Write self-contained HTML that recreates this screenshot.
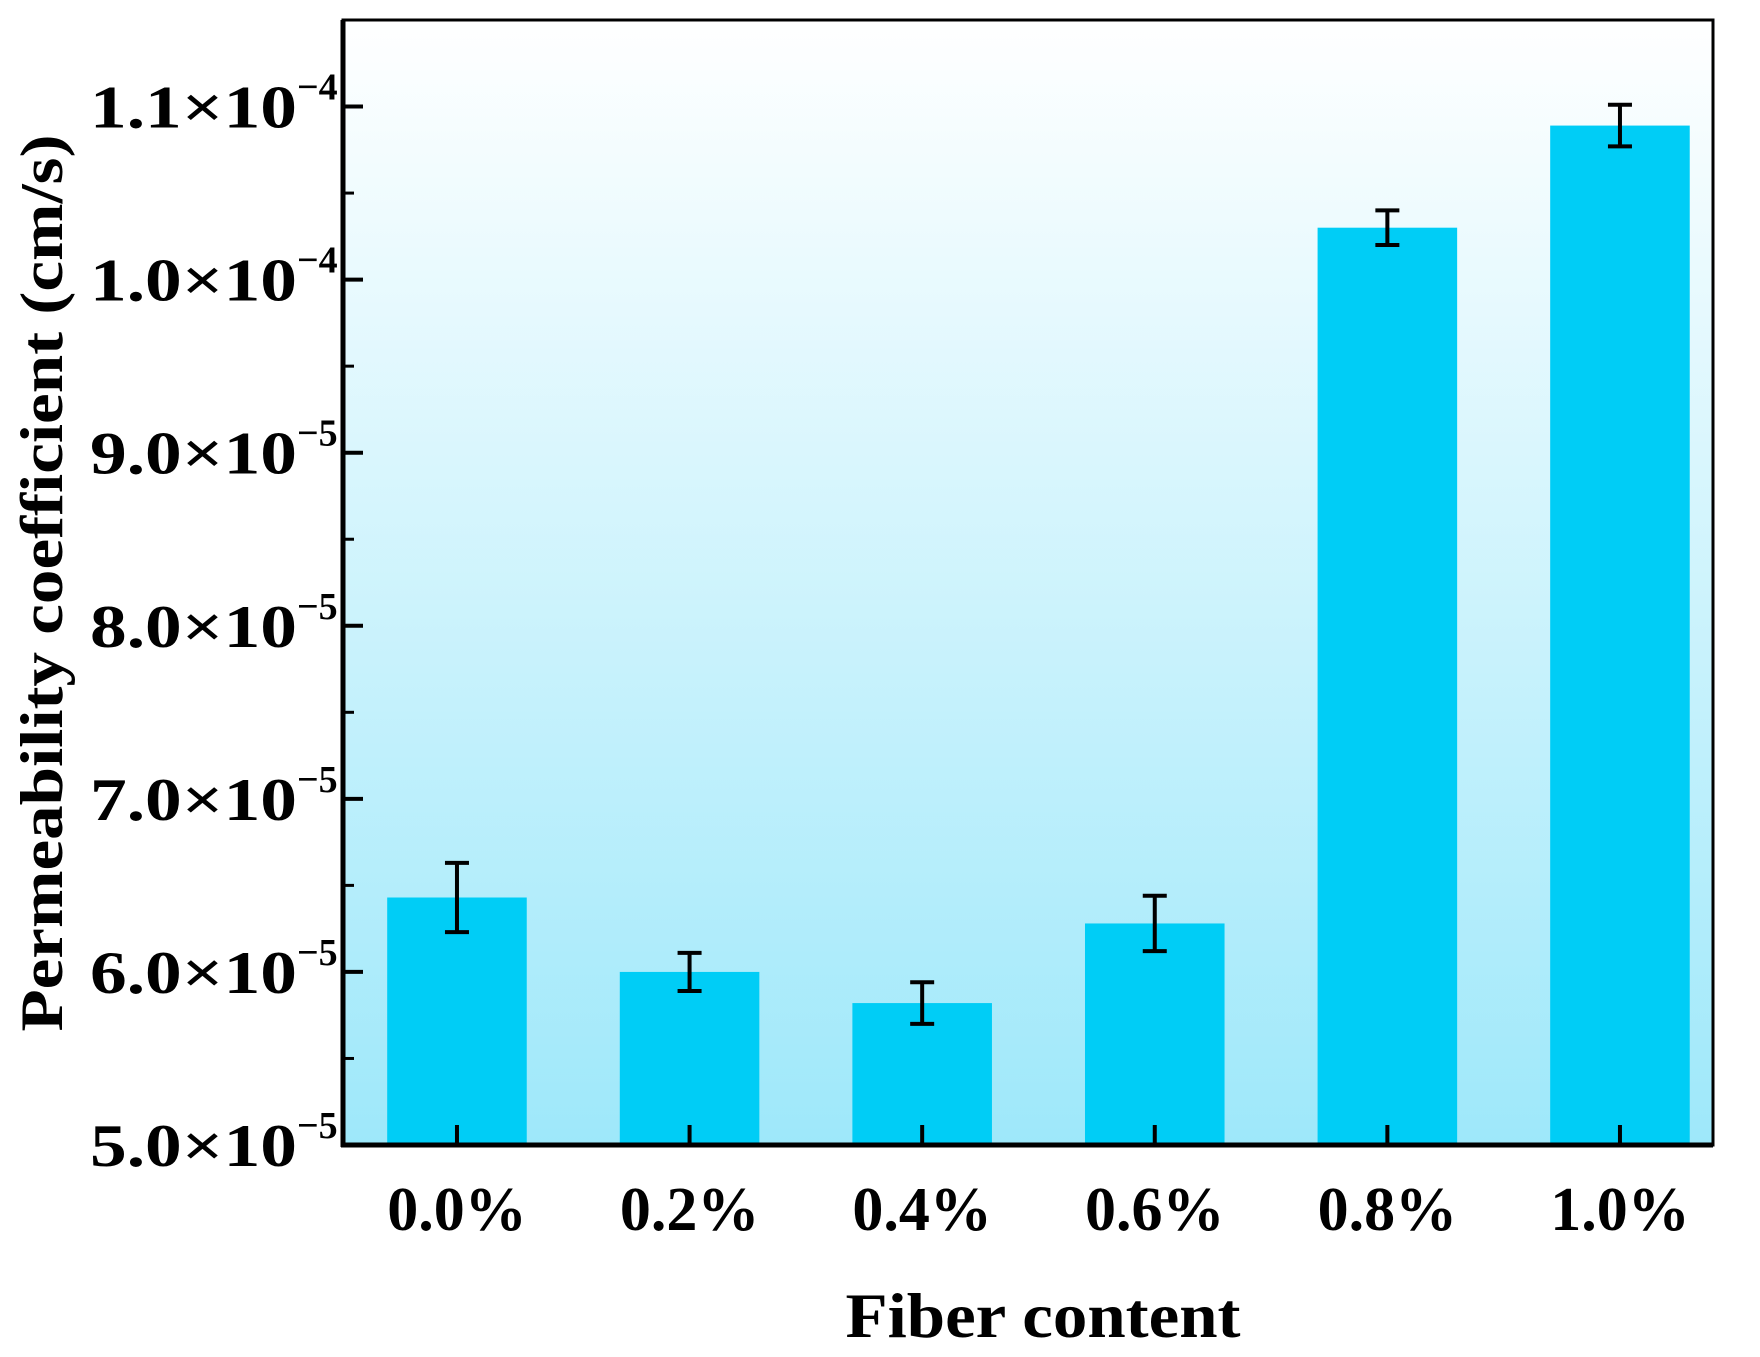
<!DOCTYPE html>
<html><head><meta charset="utf-8"><style>
html,body{margin:0;padding:0;background:#fff;}
svg{display:block;font-family:"Liberation Serif",serif;font-weight:bold;}
</style></head><body>
<svg id="chart" width="1760" height="1357" viewBox="0 0 1760 1357" xmlns="http://www.w3.org/2000/svg">
<defs><linearGradient id="bg" x1="0" y1="0" x2="0" y2="1">
<stop offset="0" stop-color="#ffffff"/><stop offset="1" stop-color="#9ee8fa"/></linearGradient></defs>
<rect x="343" y="20" width="1370" height="1125" fill="url(#bg)"/>
<g id="bars"></g><g id="axes"></g>
<text transform="translate(62,583) rotate(-90)" text-anchor="middle" font-size="60" textLength="897" lengthAdjust="spacingAndGlyphs">Permeability coefficient (cm/s)</text>
<text x="1043" y="1337" text-anchor="middle" font-size="64" textLength="395" lengthAdjust="spacingAndGlyphs">Fiber content</text>
</svg>
<script>
const categories = ["0.0%","0.2%","0.4%","0.6%","0.8%","1.0%"];
const values = [6.43, 6.00, 5.82, 6.28, 10.30, 10.89];
const errors = [0.20, 0.11, 0.12, 0.16, 0.10, 0.12];
const yTicks = [5, 6, 7, 8, 9, 10, 11];
const yTickLabels = ["5.0×10","6.0×10","7.0×10","8.0×10","9.0×10","1.0×10","1.1×10"];
const yTickExps = ["−5","−5","−5","−5","−5","−4","−4"];

const NS="http://www.w3.org/2000/svg";
const L=343,R=1713,T=20,B=1145, yMin=5,yMax=11.5, xMin=-0.490,xMax=5.400;
const xs=i=>L+(i-xMin)/(xMax-xMin)*(R-L);
const ys=v=>B-(v-yMin)/(yMax-yMin)*(B-T);
function mk(tag,attrs,parent){const e=document.createElementNS(NS,tag);for(const k in attrs)e.setAttribute(k,attrs[k]);parent.appendChild(e);return e;}
const bars=document.getElementById('bars'), axes=document.getElementById('axes');
const bw=0.6;
categories.forEach((c,i)=>{
  const x0=xs(i-bw/2), x1=xs(i+bw/2), y=ys(values[i]);
  const r=mk('rect',{x:x0,y:y,width:x1-x0,height:B-y,fill:'#00cdf6'},bars);
  
  
  const cx=xs(i), yt=ys(values[i]+errors[i]), yb=ys(values[i]-errors[i]);
  const g=mk('g',{stroke:'#000','stroke-width':4,fill:'none'},bars);
  
  
  mk('line',{x1:cx,y1:yt,x2:cx,y2:yb},g);
  mk('line',{x1:cx-12,y1:yt,x2:cx+12,y2:yt},g);
  mk('line',{x1:cx-12,y1:yb,x2:cx+12,y2:yb},g);
  const xt=mk('line',{x1:cx,y1:B,x2:cx,y2:B-20,stroke:'#000','stroke-width':4},axes);
  
  
  const t=mk('text',{x:cx,y:1230,'text-anchor':'middle','font-size':62},axes);
  
  
  t.textContent=c;
});
yTicks.forEach((v,i)=>{
  const y=ys(v);
  const tk=mk('line',{x1:L,y1:y,x2:L+20,y2:y,stroke:'#000','stroke-width':4},axes);
  
  
  if(v+0.5<=yMax){const m=mk('line',{x1:L,y1:ys(v+0.5),x2:L+11,y2:ys(v+0.5),stroke:'#000','stroke-width':3},axes);
    
    }
  const t=mk('text',{x:90,y:y+21,'font-size':60},axes);
  
  
  const mtx=mk('tspan',{textLength:207,lengthAdjust:'spacingAndGlyphs'},t);
  mtx.textContent=yTickLabels[i];
  const s=mk('tspan',{'font-size':38,dy:-28},t);
  s.textContent=yTickExps[i];
});
const frame=mk('rect',{x:L,y:T,width:R-L,height:B-T,fill:'none',stroke:'#000','stroke-width':3},axes);


mk('line',{x1:L,y1:T,x2:L,y2:B+2,stroke:'#000','stroke-width':5},axes);
mk('line',{x1:L-2,y1:B,x2:R,y2:B,stroke:'#000','stroke-width':5},axes);
</script>
</body></html>
